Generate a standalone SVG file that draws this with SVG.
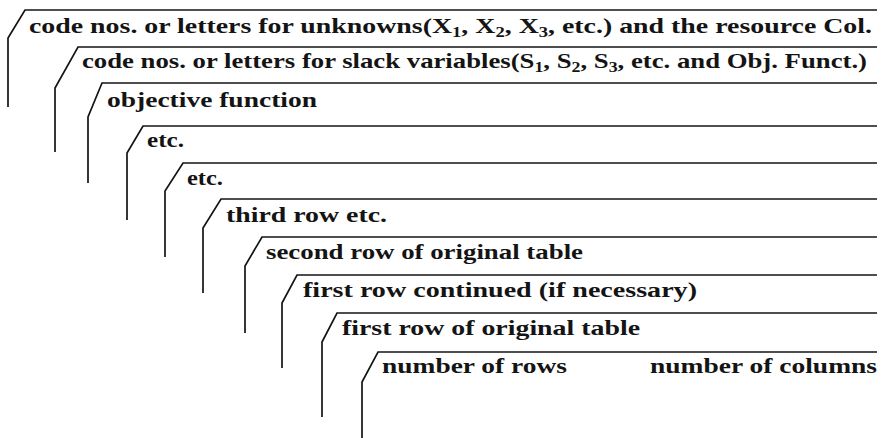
<svg xmlns="http://www.w3.org/2000/svg" width="881" height="438" viewBox="0 0 881 438">
<style>
.o{fill:none;stroke:#141414;stroke-width:1.7;stroke-linejoin:miter}
.t{font-family:"Liberation Serif","Times New Roman",serif;font-weight:bold;font-size:21px;fill:#141414}
.s{font-size:14px}
</style>
<rect width="881" height="438" fill="#fff"/>
<g id="card1">
<path class="o" d="M8,107 V38 L25,10 H877"/>
<text class="t" x="29" y="33" textLength="843" lengthAdjust="spacingAndGlyphs">code nos. or letters for unknowns(X<tspan class="s" dy="4">1</tspan><tspan dy="-4">, X</tspan><tspan class="s" dy="4">2</tspan><tspan dy="-4">, X</tspan><tspan class="s" dy="4">3</tspan><tspan dy="-4">, etc.) and the resource Col.</tspan></text>
</g>
<g id="card2">
<path class="o" d="M55,152 V88 L78,47 H877"/>
<text class="t" x="82" y="68" textLength="785" lengthAdjust="spacingAndGlyphs">code nos. or letters for slack variables(S<tspan class="s" dy="4">1</tspan><tspan dy="-4">, S</tspan><tspan class="s" dy="4">2</tspan><tspan dy="-4">, S</tspan><tspan class="s" dy="4">3</tspan><tspan dy="-4">, etc. and Obj. Funct.)</tspan></text>
</g>
<g id="card3">
<path class="o" d="M88,183 V117 L102,83 H877"/>
<text class="t" x="107" y="107" textLength="210" lengthAdjust="spacingAndGlyphs">objective  function</text>
</g>
<g id="card4">
<path class="o" d="M127,220 V153 L143,126 H877"/>
<text class="t" x="147" y="147" textLength="37" lengthAdjust="spacingAndGlyphs">etc.</text>
</g>
<g id="card5">
<path class="o" d="M165,257 V191 L183,163 H877"/>
<text class="t" x="187" y="185" textLength="36" lengthAdjust="spacingAndGlyphs">etc.</text>
</g>
<g id="card6">
<path class="o" d="M203,293 V228 L221,199 H877"/>
<text class="t" x="226" y="222" textLength="161" lengthAdjust="spacingAndGlyphs">third row etc.</text>
</g>
<g id="card7">
<path class="o" d="M245,333 V266 L262,237 H877"/>
<text class="t" x="266" y="259" textLength="317" lengthAdjust="spacingAndGlyphs">second row of original table</text>
</g>
<g id="card8">
<path class="o" d="M282,368 V303 L297,275 H877"/>
<text class="t" x="303" y="297" textLength="394" lengthAdjust="spacingAndGlyphs">first row continued  (if necessary)</text>
</g>
<g id="card9">
<path class="o" d="M322,417 V342 L337,313 H877"/>
<text class="t" x="342" y="335" textLength="298" lengthAdjust="spacingAndGlyphs">first row of original table</text>
</g>
<g id="card10">
<path class="o" d="M362,438 V382 L378,352 H877"/>
<text class="t" x="382" y="373" textLength="185" lengthAdjust="spacingAndGlyphs">number of rows</text>
<text class="t" x="650" y="373" textLength="227" lengthAdjust="spacingAndGlyphs">number of columns</text>
</g>
</svg>
